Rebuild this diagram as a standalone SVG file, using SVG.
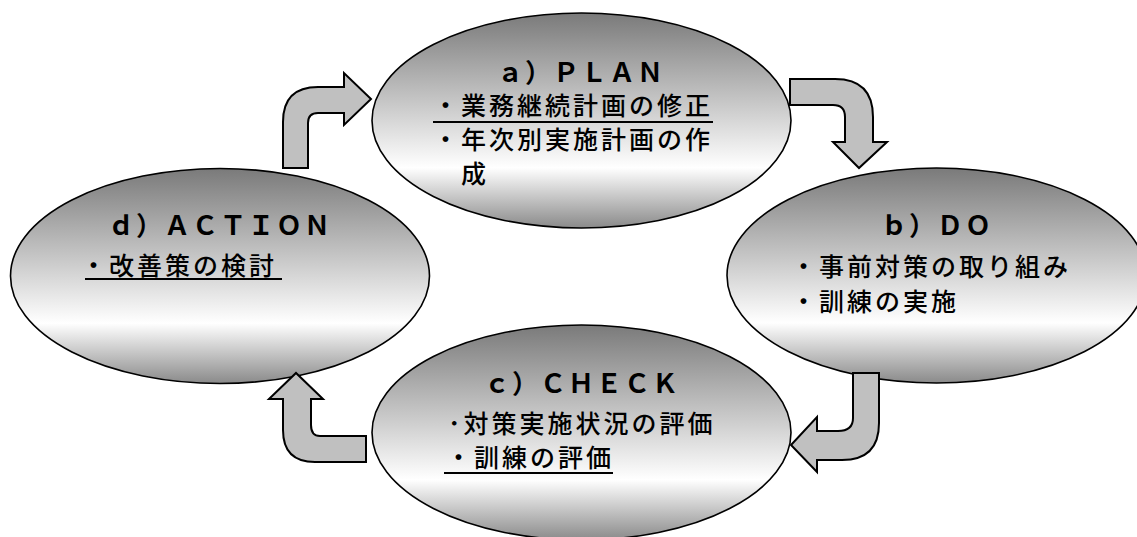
<svg xmlns="http://www.w3.org/2000/svg" width="1137" height="537" viewBox="0 0 1137 537">
<defs>
<linearGradient id="g" x1="0" y1="0" x2="0" y2="1">
<stop offset="0" stop-color="#7a7a7a"/>
<stop offset="0.72" stop-color="#ffffff"/>
<stop offset="1" stop-color="#8a8a8a"/>
</linearGradient>
<style>
.el{fill:url(#g);stroke:#000;stroke-width:1.6}
.ar{fill:#c0c0c0;stroke:#000;stroke-width:2;stroke-linejoin:miter}
.h{font-family:"Noto Sans CJK JP","Noto Sans",sans-serif;font-size:26px;font-weight:bold;letter-spacing:2px;fill:#000}
.t{font-family:"Noto Sans CJK JP","Noto Sans",sans-serif;font-size:25px;font-weight:500;letter-spacing:3px;fill:#000}
.u{stroke:#000;stroke-width:2}
</style>
</defs>
<rect width="1137" height="537" fill="#fff"/>
<g id="node-plan">
<ellipse class="el" cx="581.5" cy="120.5" rx="209.5" ry="107.5"/>
<text class="h" x="497" y="82">ａ）ＰＬＡＮ</text>
<text class="t" x="433" y="114.5">・業務継続計画の修正</text>
<line class="u" x1="433" y1="122" x2="713" y2="122"/>
<text class="t" x="433" y="148.5">・年次別実施計画の作</text>
<text class="t" x="461" y="182.5">成</text>
</g>
<g id="node-do">
<ellipse class="el" cx="936.5" cy="275.5" rx="209.5" ry="107.5"/>
<text class="h" x="881" y="235">ｂ）ＤＯ</text>
<text class="t" x="791" y="276">・事前対策の取り組み</text>
<text class="t" x="791" y="311">・訓練の実施</text>
</g>
<g id="node-check">
<ellipse class="el" cx="581.5" cy="432.5" rx="209.5" ry="107.5"/>
<text class="h" x="484" y="393">ｃ）ＣＨＥＣＫ</text>
<text class="t" x="448" y="433">･対策実施状況の評価</text>
<text class="t" x="446" y="466.5">・訓練の評価</text>
<line class="u" x1="444" y1="473" x2="613" y2="473"/>
</g>
<g id="node-action">
<ellipse class="el" cx="220" cy="276" rx="209.5" ry="107.5"/>
<text class="h" x="108" y="235">ｄ）ＡＣＴＩＯＮ</text>
<text class="t" x="81" y="275">・改善策の検討</text>
<line class="u" x1="85" y1="279" x2="282" y2="279"/>
</g>
<g id="connectors">
<path class="ar" d="M283,168 L283,122 Q283,87 318,87 L344,87 L344,73 L371,99 L344,125 L344,113 L318,113 Q308,113 308,123 L308,168 Z"/>
<path class="ar" d="M790,79 L835,79 Q873,79 873,117 L873,142 L887,142 L859,168 L833,142 L845,142 L845,117 Q845,105 833,105 L790,105 Z"/>
<path class="ar" d="M853,373 L879,373 L879,423 Q879,460 842,460 L817,460 L817,472 L791,445 L817,417 L817,431 L838,431 Q853,431 853,418 Z"/>
<path class="ar" d="M366,436 L320,436 Q311,436 311,425 L311,399 L323,399 L296,373 L269,399 L283,399 L283,430 Q283,462 315,462 L366,462 Z"/>
</g>
</svg>
